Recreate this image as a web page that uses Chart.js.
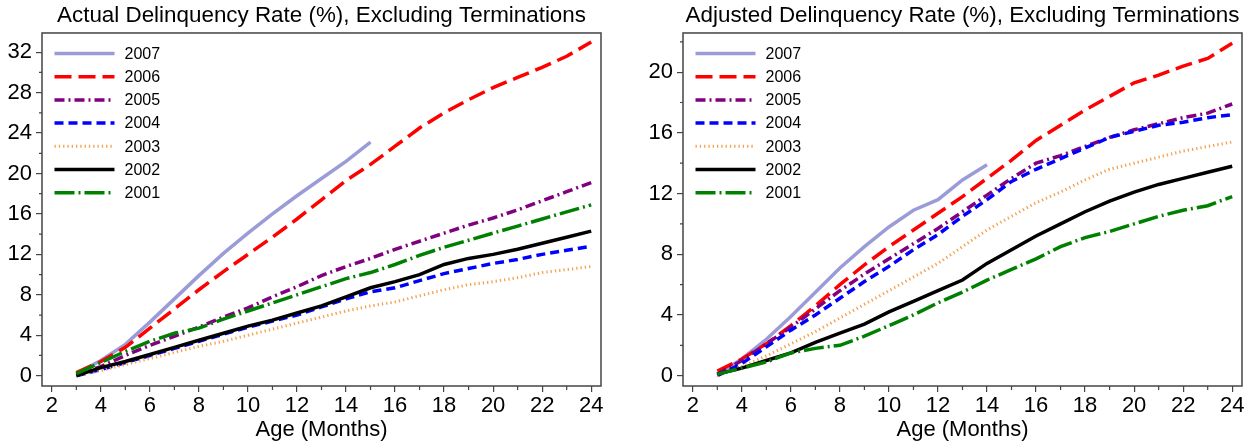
<!DOCTYPE html>
<html>
<head>
<meta charset="utf-8">
<script src="https://cdn.jsdelivr.net/npm/chart.js@4"></script>
<style>
    body { margin: 0; background: #fff; }
    #wrap { position: relative; width: 1258px; height: 446px; }
    #actual-chart { position: absolute; left: 0; top: 0; }
    #adjusted-chart { position: absolute; left: 630px; top: 0; }
</style>
</head>
<body>
<div id="wrap">
    <canvas id="actual-chart" width="630" height="446"></canvas>
    <canvas id="adjusted-chart" width="628" height="446"></canvas>
</div>
<script>
const months = [3, 4, 5, 6, 7, 8, 9, 10, 11, 12, 13, 14, 15, 16, 17, 18, 19, 20, 21, 22, 23, 24];
const years = ["2007", "2006", "2005", "2004", "2003", "2002", "2001"];

// actual delinquency rate (%), by origination year
const actual2007 = [0.2, 1.5, 3.1, 5.3, 7.6, 9.9, 12.1, 14.1, 16.0, 17.8, 19.5, 21.2, 23.1];
const actual2006 = [0.3, 1.4, 2.8, 4.7, 6.6, 8.5, 10.3, 12.0, 13.7, 15.5, 17.4, 19.3, 20.9, 22.7, 24.5, 26.0, 27.3, 28.5, 29.5, 30.5, 31.6, 33.0];
const actual2005 = [0.1, 0.9, 2.0, 3.0, 3.9, 4.8, 5.8, 6.7, 7.8, 8.8, 9.9, 10.8, 11.6, 12.5, 13.3, 14.1, 14.9, 15.6, 16.4, 17.3, 18.2, 19.1];
const actual2004 = [0.0, 0.6, 1.3, 2.0, 2.7, 3.4, 4.1, 4.8, 5.4, 6.0, 6.8, 7.6, 8.3, 8.7, 9.4, 10.1, 10.6, 11.1, 11.5, 12.0, 12.4, 12.8];
const actual2003 = [0.0, 0.5, 1.1, 1.7, 2.3, 2.9, 3.4, 4.0, 4.6, 5.2, 5.8, 6.4, 6.9, 7.3, 7.9, 8.5, 9.0, 9.3, 9.7, 10.2, 10.5, 10.8];
const actual2002 = [0.0, 0.8, 1.4, 2.1, 2.8, 3.5, 4.2, 4.9, 5.5, 6.2, 6.9, 7.8, 8.7, 9.3, 10.0, 11.0, 11.6, 12.0, 12.5, 13.1, 13.7, 14.3];
const actual2001 = [0.2, 1.3, 2.4, 3.4, 4.2, 4.7, 5.6, 6.4, 7.2, 8.0, 8.8, 9.6, 10.2, 11.0, 11.9, 12.7, 13.4, 14.1, 14.8, 15.5, 16.2, 16.9];

// adjusted delinquency rate (%)
const adjusted2007 = [0.1, 1.1, 2.4, 3.9, 5.5, 7.1, 8.5, 9.8, 10.9, 11.6, 12.9, 13.9];
const adjusted2006 = [0.3, 1.1, 2.1, 3.3, 4.6, 6.0, 7.3, 8.5, 9.6, 10.7, 11.8, 13.0, 14.2, 15.5, 16.5, 17.5, 18.4, 19.3, 19.8, 20.4, 20.9, 21.9];
const adjusted2005 = [0.1, 1.0, 2.1, 3.2, 4.4, 5.6, 6.7, 7.7, 8.7, 9.7, 10.8, 11.9, 13.0, 14.0, 14.5, 15.1, 15.7, 16.2, 16.6, 17.0, 17.3, 17.9];
const adjusted2004 = [0.0, 0.8, 1.9, 3.0, 4.0, 5.1, 6.2, 7.2, 8.3, 9.3, 10.5, 11.6, 12.8, 13.6, 14.3, 15.0, 15.7, 16.1, 16.5, 16.7, 17.0, 17.2];
const adjusted2003 = [0.0, 0.6, 1.3, 2.1, 2.9, 3.8, 4.7, 5.6, 6.5, 7.4, 8.5, 9.6, 10.5, 11.4, 12.1, 12.9, 13.6, 14.0, 14.4, 14.8, 15.1, 15.4];
const adjusted2002 = [0.1, 0.5, 1.0, 1.5, 2.2, 2.8, 3.4, 4.2, 4.9, 5.6, 6.3, 7.4, 8.3, 9.2, 10.0, 10.8, 11.5, 12.1, 12.6, 13.0, 13.4, 13.8];
const adjusted2001 = [0.1, 0.5, 0.9, 1.5, 1.8, 2.0, 2.6, 3.3, 4.0, 4.8, 5.5, 6.3, 7.0, 7.7, 8.5, 9.1, 9.5, 10.0, 10.5, 10.9, 11.2, 11.8];

const xTicks = [2, 4, 6, 8, 10, 12, 14, 16, 18, 20, 22, 24];
const actualYTicks = [0, 4, 8, 12, 16, 20, 24, 28, 32];
const adjustedYTicks = [0, 4, 8, 12, 16, 20];

const styles = {
    "2007": { color: "#9b9bd8", width: 3.5, dash: [] },
    "2006": { color: "#ff0000", width: 3.5, dash: [17, 7] },
    "2005": { color: "#800080", width: 3.5, dash: [10, 4, 2, 4] },
    "2004": { color: "#0000ff", width: 3.5, dash: [9, 5] },
    "2003": { color: "#f4a050", width: 3, dash: [1.3, 3] },
    "2002": { color: "#000000", width: 3.5, dash: [] },
    "2001": { color: "#008000", width: 3.5, dash: [20, 4, 2, 4] }
};

const FONT = "'Liberation Sans', Arial, sans-serif";
const AXIS_COLOR = "#444";

function toPoints(values) {
    return values.map((v, i) => ({ x: months[i], y: v }));
}

function makeDatasets(series) {
    return years.map((year, i) => ({
        label: year,
        data: toPoints(series[i]),
        borderColor: styles[year].color,
        borderWidth: styles[year].width,
        borderDash: styles[year].dash,
        pointRadius: 0,
        tension: 0,
        fill: false,
        order: years.length - i
    }));
}

// box around the plot, short minor ticks and the legend inside the plot
const framePlugin = {
    id: "frame",
    afterDraw(chart) {
        const ctx = chart.ctx;
        const area = chart.chartArea;
        const x = chart.scales.x;
        const y = chart.scales.y;
        ctx.save();
        ctx.strokeStyle = AXIS_COLOR;
        ctx.lineWidth = 1.5;
        ctx.strokeRect(area.left, area.top, area.right - area.left, area.bottom - area.top);

        ctx.lineWidth = 1.2;
        ctx.beginPath();
        for (let m = 3; m <= 23; m += 2) {
            const px = x.getPixelForValue(m);
            ctx.moveTo(px, area.bottom);
            ctx.lineTo(px, area.bottom + 4);
        }
        for (let v = 2; v < y.max; v += 4) {
            const py = y.getPixelForValue(v);
            ctx.moveTo(area.left - 3, py);
            ctx.lineTo(area.left, py);
        }
        ctx.stroke();

        // legend
        ctx.font = "16px " + FONT;
        ctx.textBaseline = "middle";
        ctx.fillStyle = "#000";
        chart.data.datasets.forEach((ds, i) => {
            const ly = area.top + 20.5 + i * 23.2;
            const lx = area.left + 12.5;
            ctx.beginPath();
            ctx.strokeStyle = ds.borderColor;
            ctx.lineWidth = ds.borderWidth;
            ctx.setLineDash(ds.borderDash);
            ctx.moveTo(lx, ly);
            ctx.lineTo(lx + 60, ly);
            ctx.stroke();
            ctx.setLineDash([]);
            ctx.fillText(ds.label, lx + 70, ly + 1);
        });
        ctx.restore();
    }
};

function makeChart(id, title, series, yMin, yMax, yTicks, yWidth, rightPad) {
    return new Chart(document.getElementById(id), {
        type: "line",
        data: { datasets: makeDatasets(series) },
        options: {
            responsive: false,
            animation: false,
            layout: { padding: { left: 0, right: rightPad, top: 0, bottom: 0 } },
            plugins: {
                legend: { display: false },
                tooltip: { enabled: false },
                title: {
                    display: true,
                    text: title,
                    fullSize: false,
                    color: "#000",
                    font: { family: FONT, size: 22.4, weight: "normal" },
                    padding: { top: 2, bottom: 4.1 }
                }
            },
            scales: {
                x: {
                    type: "linear",
                    min: 1.6,
                    max: 24.4,
                    afterFit: scale => { scale.height = 60; },
                    border: { display: false },
                    grid: {
                        drawOnChartArea: false,
                        tickLength: 6,
                        lineWidth: 1.2,
                        tickColor: c => xTicks.includes(c.tick.value) ? AXIS_COLOR : "rgba(0,0,0,0)"
                    },
                    ticks: {
                        stepSize: 1,
                        includeBounds: false,
                        autoSkip: false,
                        maxRotation: 0,
                        padding: 1,
                        color: "#000",
                        font: { family: FONT, size: 22 },
                        callback: v => xTicks.includes(v) ? String(v) : ""
                    },
                    title: {
                        display: true,
                        text: "Age (Months)",
                        color: "#000",
                        font: { family: FONT, size: 22 },
                        padding: { top: 0, bottom: 3 }
                    }
                },
                y: {
                    min: yMin,
                    max: yMax,
                    afterFit: scale => { scale.width = yWidth; },
                    border: { display: false },
                    grid: {
                        drawOnChartArea: false,
                        tickLength: 6,
                        lineWidth: 1.2,
                        tickColor: c => yTicks.includes(c.tick.value) ? AXIS_COLOR : "rgba(0,0,0,0)"
                    },
                    ticks: {
                        stepSize: 2,
                        includeBounds: false,
                        autoSkip: false,
                        padding: 4,
                        color: "#000",
                        font: { family: FONT, size: 22 },
                        callback: v => yTicks.includes(v) ? String(v) : ""
                    }
                }
            }
        },
        plugins: [framePlugin]
    });
}

makeChart(
    "actual-chart",
    "Actual Delinquency Rate (%), Excluding Terminations",
    [actual2007, actual2006, actual2005, actual2004, actual2003, actual2002, actual2001],
    -1.02, 33.9, actualYTicks, 42, 29
);

makeChart(
    "adjusted-chart",
    "Adjusted Delinquency Rate (%), Excluding Terminations",
    [adjusted2007, adjusted2006, adjusted2005, adjusted2004, adjusted2003, adjusted2002, adjusted2001],
    -0.68, 22.58, adjustedYTicks, 53, 16
);
</script>
</body>
</html>
